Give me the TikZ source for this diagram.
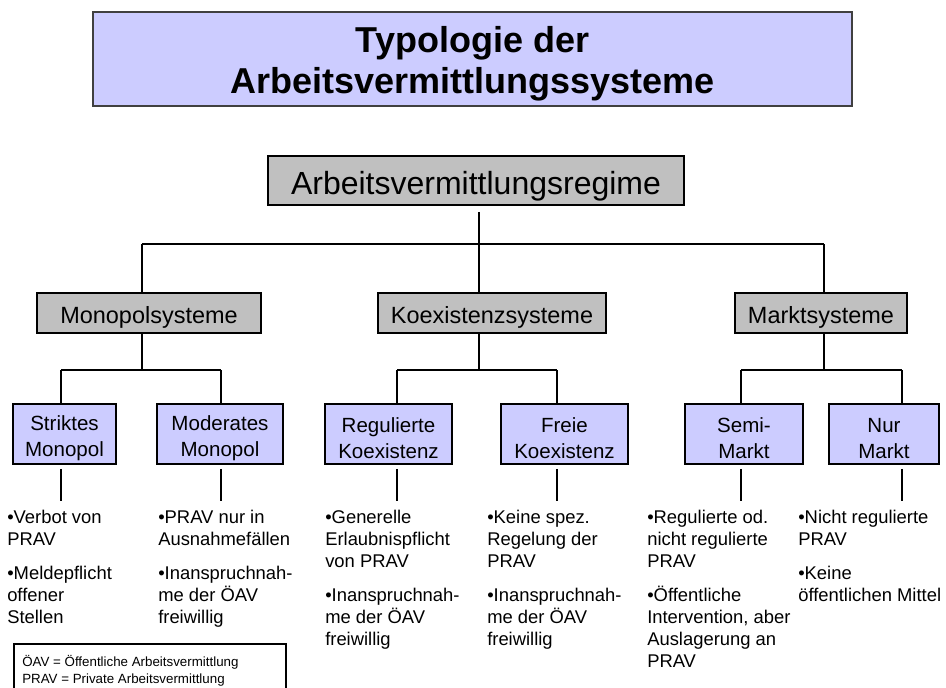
\documentclass[tikz,border=0pt]{standalone}
\usepackage{fontspec}
\setmainfont{Liberation Sans}
\definecolor{lav}{RGB}{204,204,255}
\definecolor{gry}{RGB}{192,192,192}
\newcommand\btext[1]{\parbox[t]{250pt}{\raggedright\fontsize{13.8pt}{16.5pt}\selectfont #1}}
\begin{document}
\begin{tikzpicture}[x=0.75pt,y=-0.75pt,
 sz/.style 2 args={minimum width=#1*0.75pt, minimum height=#2*0.75pt},
 box/.style={draw=black, line width=1.3pt, inner sep=0pt, align=center},
 lvlzero/.style={box, fill=gry, font=\fontsize{24pt}{28pt}\selectfont, text height=21pt, text depth=0pt},
 lvlone/.style={box, fill=gry, font=\fontsize{17.6pt}{21pt}\selectfont, text height=15pt, text depth=0pt},
 leaf/.style={box, fill=lav},
 leaftext/.style={inner sep=0pt, align=center, font=\fontsize{15.4pt}{19.5pt}\selectfont},
 bul/.style={anchor=base west, inner sep=0pt},
 conn/.style={draw=black, line width=1.3pt}]
\path[use as bounding box] (0,0) rectangle (946,688);
\clip (0,0) rectangle (946,688);

% title
\node[draw=black!75, line width=1.6pt, fill=lav, sz={759}{94}, inner sep=0pt] (title) at (472.5,59) {};
\node[inner sep=0pt, align=center, font=\bfseries\fontsize{27pt}{31pt}\selectfont] (titletext) at (472.5,64)
      {Typologie der\\Arbeitsvermittlungssysteme};

% hierarchy
\node[lvlzero, sz={416}{49}] (top) at (476,180.5) {Arbeitsvermittlungsregime};
\node[lvlone, sz={224}{40}] (mono) at (149,313) {Monopolsysteme};
\node[lvlone, sz={228}{40}] (koex) at (492,313) {Koexistenzsysteme};
\node[lvlone, sz={172}{40}] (markt) at (821,313) {Marktsysteme};

\node[leaf, sz={103}{60}] (l1) at (64.5,434) {};
\node[leaf, sz={126}{60}] (l2) at (220,434) {};
\node[leaf, sz={127}{60}] (l3) at (388.5,434) {};
\node[leaf, sz={127}{60}] (l4) at (564.5,434) {};
\node[leaf, sz={118}{60}] (l5) at (744,434) {};
\node[leaf, sz={110}{60}] (l6) at (884,434) {};
\node[leaftext] (l1t) at (64.5,438.5) {Striktes\\Monopol};
\node[leaftext] (l2t) at (220,438.5) {Moderates\\Monopol};
\node[leaftext] (l3t) at (388.5,438.5) {Regulierte\\Koexistenz};
\node[leaftext] (l4t) at (564.5,438.5) {Freie\\Koexistenz};
\node[leaftext] (l5t) at (744,438.5) {Semi-\\Markt};
\node[leaftext] (l6t) at (884,438.5) {Nur\\Markt};

% bullet texts
\node[bul] (b1) at (7,523) {\btext{•Verbot von\\PRAV\\[9pt]•Meldepflicht\\offener\\Stellen}};
\node[bul] (b2) at (158,523) {\btext{•PRAV nur in\\Ausnahmefällen\\[9pt]•Inanspruchnah-\\me der ÖAV\\freiwillig}};
\node[bul] (b3) at (325,523) {\btext{•Generelle\\Erlaubnispflicht\\von PRAV\\[9pt]•Inanspruchnah-\\me der ÖAV\\freiwillig}};
\node[bul] (b4) at (487,523) {\btext{•Keine spez.\\Regelung der\\PRAV\\[9pt]•Inanspruchnah-\\me der ÖAV\\freiwillig}};
\node[bul] (b5) at (647,523) {\btext{•Regulierte od.\\nicht regulierte\\PRAV\\[9pt]•Öffentliche\\Intervention, aber\\Auslagerung an\\PRAV}};
\node[bul] (b6) at (798,523) {\btext{•Nicht regulierte\\PRAV\\[9pt]•Keine\\öffentlichen Mittel}};

% legend
\node[draw=black, line width=1.3pt, anchor=north west, sz={272}{70}, inner sep=0pt] (legend) at (13,643) {};
\node[bul] (legtext) at (22,666) {\parbox[t]{260pt}{\fontsize{10pt}{12.75pt}\selectfont ÖAV = Öffentliche Arbeitsvermittlung\\PRAV = Private Arbeitsvermittlung}};

% connectors level 0 -> 1
\coordinate (a1) at (479,212);
\coordinate (a2) at (479,244);
\coordinate (hL) at (142,244);
\coordinate (hR) at (824,244);
\draw[conn] (a1) -- (a2);
\draw[conn] (hL) -- (hR);
\draw[conn] (hL) -- (hL |- mono.north);
\draw[conn] (a2) -- (a2 |- koex.north);
\draw[conn] (hR) -- (hR |- markt.north);

% connectors level 1 -> 2
\coordinate (m0) at (142,370);
\coordinate (k0) at (479,370);
\coordinate (r0) at (824,370);
\draw[conn] (m0 |- mono.south) -- (m0);
\draw[conn] (k0 |- koex.south) -- (k0);
\draw[conn] (r0 |- markt.south) -- (r0);
\coordinate (s1) at (61,370);
\coordinate (s2) at (221,370);
\coordinate (s3) at (397,370);
\coordinate (s4) at (557,370);
\coordinate (s5) at (741,370);
\coordinate (s6) at (902,370);
\draw[conn] (s1) -- (s2);
\draw[conn] (s3) -- (s4);
\draw[conn] (s5) -- (s6);
\draw[conn] (s1) -- (s1 |- l1.north);
\draw[conn] (s2) -- (s2 |- l2.north);
\draw[conn] (s3) -- (s3 |- l3.north);
\draw[conn] (s4) -- (s4 |- l4.north);
\draw[conn] (s5) -- (s5 |- l5.north);
\draw[conn] (s6) -- (s6 |- l6.north);

% connectors leaf -> texts
\coordinate (d1) at (61,501);
\coordinate (d2) at (221,501);
\coordinate (d3) at (397,501);
\coordinate (d4) at (557,501);
\coordinate (d5) at (741,501);
\coordinate (d6) at (902,501);
\draw[conn, shorten <=3pt] (d1 |- l1.south) -- (d1);
\draw[conn, shorten <=3pt] (d2 |- l2.south) -- (d2);
\draw[conn, shorten <=3pt] (d3 |- l3.south) -- (d3);
\draw[conn, shorten <=3pt] (d4 |- l4.south) -- (d4);
\draw[conn, shorten <=3pt] (d5 |- l5.south) -- (d5);
\draw[conn, shorten <=3pt] (d6 |- l6.south) -- (d6);
\end{tikzpicture}
\end{document}
